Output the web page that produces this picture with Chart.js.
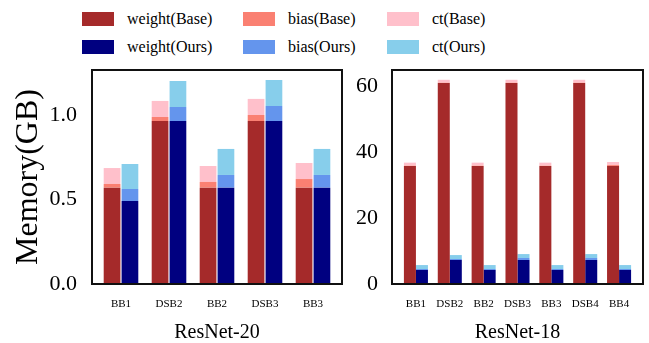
<!DOCTYPE html>
<html>
<head>
<meta charset="utf-8">
<script src="https://cdn.jsdelivr.net/npm/chart.js@4.4.1/dist/chart.umd.min.js"></script>
<style>
  body { margin: 0; background: #fff; font-family: 'Liberation Serif', serif; }
  #page { position: relative; width: 649px; height: 343px; overflow: hidden; }
  canvas { position: absolute; top: 60px; }
  .lg { position: absolute; font-size: 16px; line-height: 16px; color: #000; white-space: nowrap; }
  .sw { position: absolute; width: 32px; height: 14px; }
</style>
</head>
<body>
<div id="page">
  <div id="legend"></div>
  <canvas id="r20" width="345" height="283" style="left:0px"></canvas>
  <canvas id="r18" width="304" height="283" style="left:345px"></canvas>
</div>
<script>
// ResNet-20 (left panel), values in GB
var r20Labels = ['BB1', 'DSB2', 'BB2', 'DSB3', 'BB3'];
var r20WeightBase = [0.570, 0.964, 0.570, 0.964, 0.570];
var r20BiasBase = [0.022, 0.024, 0.034, 0.036, 0.051];
var r20CtBase = [0.094, 0.095, 0.094, 0.095, 0.095];
var r20WeightOurs = [0.491, 0.964, 0.570, 0.964, 0.570];
var r20BiasOurs = [0.071, 0.083, 0.075, 0.089, 0.075];
var r20CtOurs = [0.148, 0.154, 0.154, 0.154, 0.154];

// ResNet-18 (right panel), values in GB
var r18Labels = ['BB1', 'DSB2', 'BB2', 'DSB3', 'BB3', 'DSB4', 'BB4'];
var r18WeightBase = [35.9, 61.1, 35.9, 61.1, 35.9, 61.1, 35.9];
var r18BiasBase = [0.1, 0.1, 0.1, 0.1, 0.1, 0.1, 0.3];
var r18CtBase = [0.9, 0.9, 0.9, 0.9, 0.9, 0.9, 0.9];
var r18WeightOurs = [4.26, 7.3, 4.26, 7.3, 4.26, 7.3, 4.26];
var r18BiasOurs = [0.3, 0.3, 0.3, 0.6, 0.3, 0.6, 0.3];
var r18CtOurs = [1.2, 1.2, 1.2, 1.2, 1.2, 1.2, 1.2];

var seriesNames = ['weight(Base)', 'bias(Base)', 'ct(Base)', 'weight(Ours)', 'bias(Ours)', 'ct(Ours)'];
var seriesColors = ['#a52a2a', '#fa8072', '#ffc0cb', '#000080', '#6495ed', '#87ceeb'];

Chart.defaults.font.family = "'Liberation Serif', 'Times New Roman', serif";
Chart.defaults.color = '#000';

// legend: 3 columns, base on first row, ours on second
var legendCols = [82, 243, 387];
var legendRows = [18.5, 46.5];
var legendEl = document.getElementById('legend');
seriesNames.forEach(function (name, i) {
    var col = i % 3, row = Math.floor(i / 3);
    var sw = document.createElement('div');
    sw.className = 'sw';
    sw.style.left = legendCols[col] + 'px';
    sw.style.top = (legendRows[row] - 7) + 'px';
    sw.style.background = seriesColors[i];
    legendEl.appendChild(sw);
    var tx = document.createElement('div');
    tx.className = 'lg';
    tx.textContent = name;
    tx.style.left = (legendCols[col] + 45) + 'px';
    tx.style.top = (legendRows[row] - 8) + 'px';
    legendEl.appendChild(tx);
});

// frame round the plot, a bit wider than the category area
function framePlugin(inset) {
    return {
        id: 'frame',
        afterDraw: function (chart) {
            var a = chart.chartArea, ctx = chart.ctx;
            ctx.save();
            ctx.strokeStyle = '#111';
            ctx.lineWidth = 2;
            ctx.strokeRect(a.left - inset, a.top, a.width + 2 * inset, a.height);
            ctx.restore();
        }
    };
}

function noPad(s) {
    s.paddingTop = 0;
    s.paddingBottom = 0;
    s.paddingLeft = 0;
    s.paddingRight = 0;
}

function makeDatasets(w0, b0, c0, w1, b1, c1, barPct) {
    var vals = [w0, b0, c0, w1, b1, c1];
    return vals.map(function (v, i) {
        return {
            label: seriesNames[i],
            data: v,
            backgroundColor: seriesColors[i],
            borderWidth: 0,
            stack: i < 3 ? 'base' : 'ours',
            barPercentage: barPct
        };
    });
}

function makePanel(id, labels, datasets, opts) {
    var ctx = document.getElementById(id).getContext('2d');
    return new Chart(ctx, {
        type: 'bar',
        data: { labels: labels, datasets: datasets },
        options: {
            responsive: false,
            animation: false,
            datasets: { bar: { categoryPercentage: opts.catPct } },
            layout: { padding: { left: 0, right: opts.padRight, top: 10, bottom: 0 } },
            plugins: { legend: { display: false }, tooltip: { enabled: false } },
            scales: {
                x: {
                    stacked: true,
                    grid: { display: false, drawTicks: false },
                    border: { display: false },
                    ticks: { font: { size: 11 }, padding: 14, maxRotation: 0, autoSkip: false },
                    title: { display: true, text: opts.title, font: { size: 20, lineHeight: 1 }, padding: 0 },
                    afterFit: function (s) { s.height = 59; noPad(s); }
                },
                y: {
                    stacked: true,
                    min: 0,
                    max: opts.yMax,
                    grid: { display: false, drawTicks: false },
                    border: { display: false },
                    ticks: {
                        stepSize: opts.step,
                        includeBounds: false,
                        padding: opts.tickPad,
                        font: { size: opts.tickSize },
                        callback: opts.fmt
                    },
                    title: opts.yTitle,
                    afterFit: function (s) { s.width = opts.yWidth; noPad(s); }
                }
            }
        },
        plugins: [framePlugin(opts.inset)]
    });
}

makePanel('r20', r20Labels,
    makeDatasets(r20WeightBase, r20BiasBase, r20CtBase, r20WeightOurs, r20BiasOurs, r20CtOurs, 0.935),
    {
        catPct: 0.745, padRight: 8, yMax: 1.266, step: 0.5, tickPad: 20, tickSize: 22, yWidth: 97, inset: 5,
        title: 'ResNet-20',
        fmt: function (v) { return v.toFixed(1); },
        yTitle: { display: true, text: 'Memory(GB)', font: { size: 32, lineHeight: 1 }, padding: { top: 13, bottom: 0 } }
    });

makePanel('r18', r18Labels,
    makeDatasets(r18WeightBase, r18BiasBase, r18CtBase, r18WeightOurs, r18BiasOurs, r18CtOurs, 1.0),
    {
        catPct: 0.71, padRight: 13, yMax: 65.07, step: 20, tickPad: 21, tickSize: 22, yWidth: 54, inset: 7,
        title: 'ResNet-18',
        fmt: function (v) { return String(v); },
        yTitle: { display: false }
    });
</script>
</body>
</html>
